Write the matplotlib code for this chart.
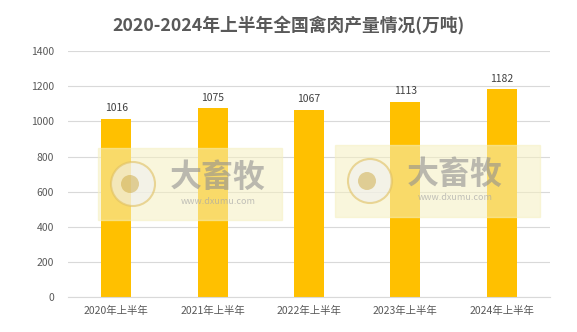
import matplotlib.pyplot as plt
from matplotlib.patches import Rectangle, Circle

plt.rcParams['font.family'] = ['Noto Sans CJK SC', 'DejaVu Sans']

# data
categories = ['2020年上半年', '2021年上半年', '2022年上半年', '2023年上半年', '2024年上半年']
values = [1016, 1075, 1067, 1113, 1182]
yticks = [0, 200, 400, 600, 800, 1000, 1200, 1400]

fig = plt.figure(figsize=(5.77, 3.32), dpi=100)
ax = fig.add_axes([0.118, 0.105, 0.835, 0.741])

x = range(len(categories))
bars = ax.bar(x, values, width=0.31, color='#FFC000', zorder=2)

for xi, v in zip(x, values):
    ax.text(xi, v + 30, str(v), ha='center', va='bottom', fontsize=7.5, color='#404040')

ax.set_xlim(-0.5, 4.5)
ax.set_ylim(0, 1400)
ax.set_yticks(yticks)
ax.set_xticks(list(x))
ax.set_xticklabels(categories)
ax.grid(axis='y', color='#D9D9D9', linewidth=0.8, zorder=0)
for s in ['top', 'right', 'left']:
    ax.spines[s].set_visible(False)
ax.spines['bottom'].set_color('#D9D9D9')
ax.tick_params(axis='both', length=0, labelsize=7.5, colors='#595959')
ax.tick_params(axis='x', pad=6)
ax.tick_params(axis='y', pad=10)

fig.text(0.5, 0.922, '2020-2024年上半年全国禽肉产量情况(万吨)', ha='center', va='center',
         fontsize=12.8, fontweight='bold', color='#595959')

# watermark overlays (figure pixel coords)
def watermark(x0, y0, w, h):
    fig.patches.append(Rectangle((x0 / 577, 1 - (y0 + h) / 332), w / 577, h / 332,
                                 transform=fig.transFigure, color='#F5F0C0', alpha=0.55, zorder=5))
    fig.patches.append(Circle((x0 + 35, 332 - (y0 + h / 2)), 22, transform=None,
                              facecolor='#F0F0F0', edgecolor='#E0C060', linewidth=1.5, alpha=0.6, zorder=6))
    fig.patches.append(Circle((x0 + 32, 332 - (y0 + h / 2)), 9, transform=None,
                              facecolor='#C8A030', alpha=0.45, zorder=6))
    fig.text((x0 + 120) / 577, 1 - (y0 + h / 2 - 6) / 332, '大畜牧', ha='center', va='center',
             fontsize=23, fontweight='bold', color='#909090', alpha=0.6, zorder=7)
    fig.text((x0 + 120) / 577, 1 - (y0 + h / 2 + 17) / 332, 'www.dxumu.com', ha='center', va='center',
             fontsize=6.5, color='#A8A8A8', alpha=0.7, zorder=7)

watermark(98, 148, 184, 72)
watermark(335, 145, 205, 72)

fig.savefig('out.png', dpi=100)
